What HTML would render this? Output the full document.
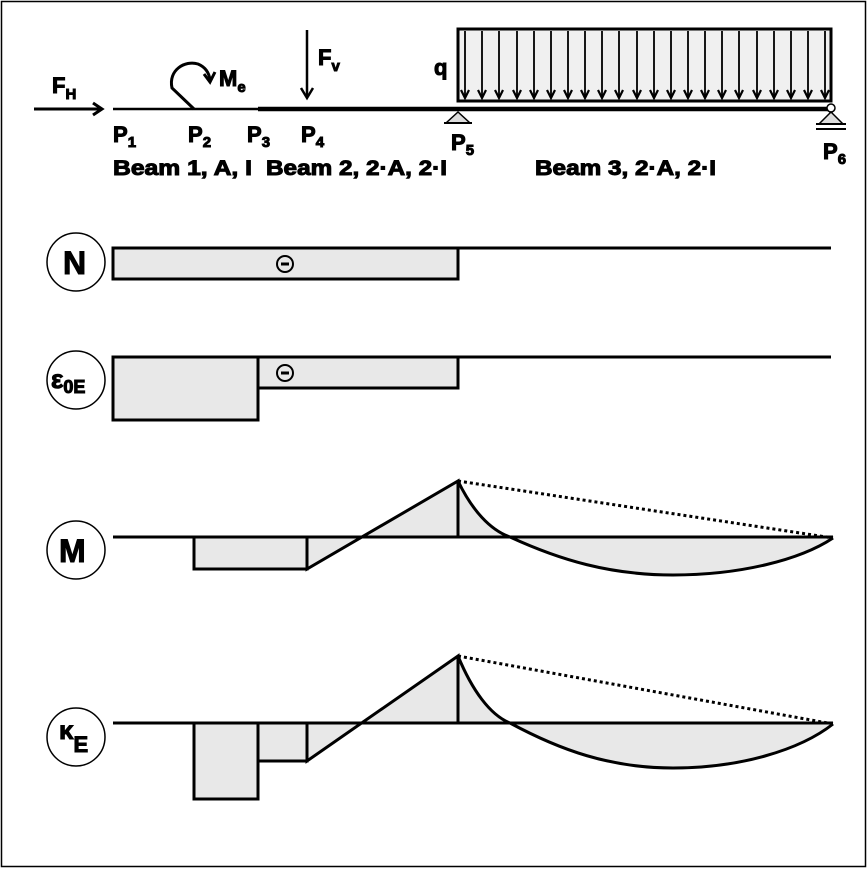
<!DOCTYPE html>
<html><head><meta charset="utf-8"><style>
html,body{margin:0;padding:0;background:#fff}
svg{display:block}
text{font-family:"Liberation Sans",Arial,sans-serif;font-weight:bold;fill:#000;stroke:#000;stroke-width:1}
</style></head><body>
<svg width="868" height="869" viewBox="0 0 868 869" xmlns="http://www.w3.org/2000/svg">
<rect x="1.5" y="1.5" width="864" height="865" fill="#fff" stroke="#000" stroke-width="1.5"/>
<line x1="113" y1="109" x2="258" y2="109" stroke="#000" stroke-width="2.5"/>
<line x1="258" y1="109" x2="831" y2="109" stroke="#000" stroke-width="4.5"/>
<line x1="34" y1="109" x2="100" y2="109" stroke="#000" stroke-width="3"/>
<polyline points="93,103 102,109 93,115" fill="none" stroke="#000" stroke-width="3"/>
<text x="52" y="93" font-size="22">F<tspan font-size="15" dy="6">H</tspan></text>
<path d="M194,109 L172,88 C168,70 185,60 198,64 C205,67 209,72 210,80" fill="none" stroke="#000" stroke-width="3"/>
<polyline points="204,74 210,82 215,72" fill="none" stroke="#000" stroke-width="3"/>
<text x="219" y="86" font-size="22">M<tspan font-size="15" dy="6">e</tspan></text>
<line x1="307" y1="30" x2="307" y2="96" stroke="#000" stroke-width="2.5"/>
<polyline points="301,88 307,98 313,88" fill="none" stroke="#000" stroke-width="2.5"/>
<text x="318" y="65" font-size="22">F<tspan font-size="15" dy="6">v</tspan></text>
<rect x="458" y="29" width="373" height="72" fill="#f0f0f0" stroke="#000" stroke-width="3"/>
<text x="434" y="75" font-size="22">q</text>
<g stroke="#000" stroke-width="1.8" fill="none">
<line x1="465" y1="31" x2="465" y2="98"/><line x1="482" y1="31" x2="482" y2="98"/><line x1="499" y1="31" x2="499" y2="98"/><line x1="517" y1="31" x2="517" y2="98"/><line x1="534" y1="31" x2="534" y2="98"/><line x1="551" y1="31" x2="551" y2="98"/><line x1="568" y1="31" x2="568" y2="98"/><line x1="585" y1="31" x2="585" y2="98"/><line x1="602" y1="31" x2="602" y2="98"/><line x1="619" y1="31" x2="619" y2="98"/><line x1="637" y1="31" x2="637" y2="98"/><line x1="654" y1="31" x2="654" y2="98"/><line x1="671" y1="31" x2="671" y2="98"/><line x1="688" y1="31" x2="688" y2="98"/><line x1="705" y1="31" x2="705" y2="98"/><line x1="722" y1="31" x2="722" y2="98"/><line x1="739" y1="31" x2="739" y2="98"/><line x1="757" y1="31" x2="757" y2="98"/><line x1="774" y1="31" x2="774" y2="98"/><line x1="791" y1="31" x2="791" y2="98"/><line x1="808" y1="31" x2="808" y2="98"/><line x1="825" y1="31" x2="825" y2="98"/>
</g>
<g stroke="#000" stroke-width="2.2" fill="none">
<polyline points="461,90 465,98 469,90"/><polyline points="478,90 482,98 486,90"/><polyline points="495,90 499,98 503,90"/><polyline points="513,90 517,98 521,90"/><polyline points="530,90 534,98 538,90"/><polyline points="547,90 551,98 555,90"/><polyline points="564,90 568,98 572,90"/><polyline points="581,90 585,98 589,90"/><polyline points="598,90 602,98 606,90"/><polyline points="615,90 619,98 623,90"/><polyline points="633,90 637,98 641,90"/><polyline points="650,90 654,98 658,90"/><polyline points="667,90 671,98 675,90"/><polyline points="684,90 688,98 692,90"/><polyline points="701,90 705,98 709,90"/><polyline points="718,90 722,98 726,90"/><polyline points="735,90 739,98 743,90"/><polyline points="753,90 757,98 761,90"/><polyline points="770,90 774,98 778,90"/><polyline points="787,90 791,98 795,90"/><polyline points="804,90 808,98 812,90"/><polyline points="821,90 825,98 829,90"/>
</g>
<polygon points="458,112 446,123 470,123" fill="#ddd" stroke="#000" stroke-width="1.5"/>
<line x1="444" y1="123" x2="472" y2="123" stroke="#000" stroke-width="2"/>
<circle cx="831" cy="108" r="4" fill="#fff" stroke="#000" stroke-width="1.5"/>
<polygon points="831,112 819,124 843,124" fill="#ddd" stroke="#000" stroke-width="1.5"/>
<line x1="816" y1="124" x2="846" y2="124" stroke="#000" stroke-width="2"/>
<line x1="816" y1="129" x2="846" y2="129" stroke="#000" stroke-width="2"/>
<g font-size="22">
<text x="113" y="142">P<tspan font-size="15" dy="5">1</tspan></text>
<text x="188" y="142">P<tspan font-size="15" dy="5">2</tspan></text>
<text x="247" y="142">P<tspan font-size="15" dy="5">3</tspan></text>
<text x="301" y="142">P<tspan font-size="15" dy="5">4</tspan></text>
<text x="451" y="150">P<tspan font-size="15" dy="5">5</tspan></text>
<text x="823" y="159">P<tspan font-size="15" dy="5">6</tspan></text>
</g>
<g font-size="21">
<text x="113" y="175" textLength="139" lengthAdjust="spacingAndGlyphs">Beam 1, A, I</text>
<text x="266" y="175" textLength="181" lengthAdjust="spacingAndGlyphs">Beam 2, 2·A, 2·I</text>
<text x="535" y="175" textLength="181" lengthAdjust="spacingAndGlyphs">Beam 3, 2·A, 2·I</text>
</g>
<g fill="#fff" stroke="#000" stroke-width="1.5">
<circle cx="76" cy="262" r="29"/><circle cx="76" cy="380" r="29"/><circle cx="76" cy="550" r="29"/><circle cx="76" cy="737" r="29"/>
</g>
<text x="63" y="274" font-size="32">N</text>
<text x="51" y="388" font-size="26">ε<tspan font-size="18" dy="5">0E</tspan></text>
<text x="59" y="562" font-size="32">M</text>
<text x="59" y="739" font-size="26">κ<tspan font-size="22" dy="13">E</tspan></text>
<rect x="113" y="248" width="345" height="31" fill="#e8e8e8" stroke="#000" stroke-width="3"/>
<line x1="113" y1="248" x2="831" y2="248" stroke="#000" stroke-width="3"/>
<circle cx="285" cy="264" r="8" fill="none" stroke="#000" stroke-width="2"/><line x1="281" y1="264" x2="289" y2="264" stroke="#000" stroke-width="3"/>
<rect x="113" y="357" width="145" height="63" fill="#e8e8e8" stroke="#000" stroke-width="3"/>
<rect x="258" y="357" width="200" height="31" fill="#e8e8e8" stroke="#000" stroke-width="3"/>
<line x1="113" y1="357" x2="831" y2="357" stroke="#000" stroke-width="3"/>
<circle cx="285" cy="373" r="8" fill="none" stroke="#000" stroke-width="2"/><line x1="281" y1="373" x2="289" y2="373" stroke="#000" stroke-width="3"/>
<rect x="194" y="537" width="113" height="32" fill="#e8e8e8" stroke="#000" stroke-width="3"/>
<polygon points="307,537 307,569 458,481 458,537" fill="#e8e8e8"/>
<path d="M458,481 C472,510 490,530 510,537 C560,560 610,575 673,575 C740,575 800,560 833,538 L458,537 Z" fill="#e8e8e8"/>
<line x1="113" y1="537" x2="833" y2="537" stroke="#000" stroke-width="3"/>
<polyline points="307,537 307,569 458,481 458,537" fill="none" stroke="#000" stroke-width="3"/>
<path d="M458,481 C472,510 490,530 510,537 C560,560 610,575 673,575 C740,575 800,560 833,538" fill="none" stroke="#000" stroke-width="3"/>
<line x1="458" y1="481" x2="833" y2="538" stroke="#000" stroke-width="3" stroke-dasharray="3,3"/>
<rect x="194" y="723" width="64" height="76" fill="#e8e8e8" stroke="#000" stroke-width="3"/>
<rect x="258" y="723" width="49" height="38" fill="#e8e8e8" stroke="#000" stroke-width="3"/>
<polygon points="307,723 307,761 458,656 458,723" fill="#e8e8e8"/>
<path d="M458,656 C472,690 490,715 510,723 C560,750 610,768 673,768 C740,768 800,750 833,724 L458,723 Z" fill="#e8e8e8"/>
<line x1="113" y1="723" x2="833" y2="723" stroke="#000" stroke-width="3"/>
<polyline points="307,723 307,761 458,656 458,723" fill="none" stroke="#000" stroke-width="3"/>
<path d="M458,656 C472,690 490,715 510,723 C560,750 610,768 673,768 C740,768 800,750 833,724" fill="none" stroke="#000" stroke-width="3"/>
<line x1="458" y1="656" x2="833" y2="724" stroke="#000" stroke-width="3" stroke-dasharray="3,3"/>
</svg>
</body></html>
